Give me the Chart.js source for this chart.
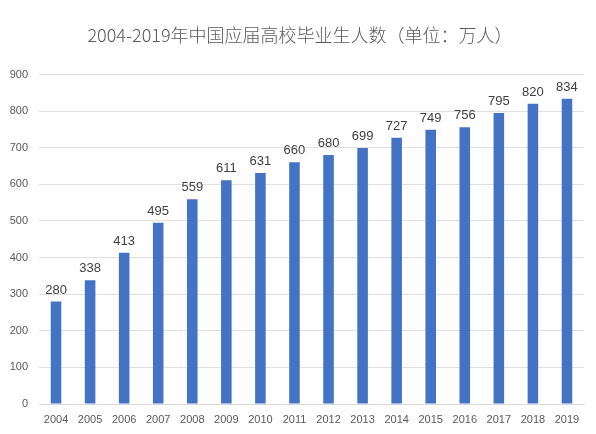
<!DOCTYPE html>
<html>
<head>
<meta charset="utf-8">
<script src="https://cdn.jsdelivr.net/npm/chart.js@4"></script>
<style>
html,body{margin:0;padding:0;background:#fff;}
#wrap{width:596px;height:434px;}
</style>
</head>
<body>
<div id="wrap"><canvas id="c"></canvas></div>
<script>
const categories = ["2004","2005","2006","2007","2008","2009","2010","2011","2012","2013","2014","2015","2016","2017","2018","2019"];
const graduates = [280,338,413,495,559,611,631,660,680,699,727,749,756,795,820,834];
const yTicks = [0,100,200,300,400,500,600,700,800,900];
const titleText = "2004-2019年中国应届高校毕业生人数（单位：万人）";

const valueLabels = {
  id: 'valueLabels',
  afterDatasetsDraw(chart) {
    const ctx = chart.ctx;
    const meta = chart.getDatasetMeta(0);
    ctx.save();
    ctx.font = '13px "Liberation Sans", "Noto Sans", sans-serif';
    ctx.fillStyle = '#404040';
    ctx.textAlign = 'center';
    ctx.textBaseline = 'bottom';
    meta.data.forEach((bar, i) => {
      ctx.fillText(String(chart.data.datasets[0].data[i]), bar.x, bar.y - 5);
    });
    ctx.restore();
  }
};

const titleDraw = {
  id: 'titleDraw',
  afterDraw(chart) {
    const ctx = chart.ctx;
    ctx.save();
    ctx.font = '300 18px "Noto Sans CJK SC", sans-serif';
    ctx.fillStyle = '#5a5a5a';
    ctx.textAlign = 'center';
    ctx.textBaseline = 'middle';
    ctx.fillText(titleText, 300, 35);
    ctx.restore();
  }
};

new Chart(document.getElementById('c'), {
  type: 'bar',
  data: {
    labels: categories,
    datasets: [{
      data: graduates,
      backgroundColor: '#4472C4',
      borderWidth: 0,
      categoryPercentage: 1,
      barPercentage: 0.31
    }]
  },
  options: {
    responsive: true,
    maintainAspectRatio: false,
    animation: false,
    layout: { padding: { top: 74.5, left: 8, right: 12, bottom: 0 } },
    plugins: {
      legend: { display: false },
      tooltip: { enabled: false },
      title: { display: false }
    },
    scales: {
      x: {
        afterFit(scale) { scale.height = 30; },
        grid: { display: false, drawTicks: false },
        border: { display: true, color: '#d9d9d9' },
        ticks: {
          color: '#595959',
          padding: 9,
          maxRotation: 0,
          autoSkip: false,
          font: { family: '"Liberation Sans", sans-serif', size: 11 }
        }
      },
      y: {
        min: 0,
        max: 900,
        afterBuildTicks(scale) { scale.ticks = yTicks.map(v => ({ value: v })); },
        afterFit(scale) { scale.width = 31; },
        grid: { color: '#e0e0e0', drawTicks: false },
        border: { display: false },
        ticks: {
          color: '#595959',
          padding: 11,
          font: { family: '"Liberation Sans", sans-serif', size: 11 }
        }
      }
    }
  },
  plugins: [valueLabels, titleDraw]
});
</script>
</body>
</html>
